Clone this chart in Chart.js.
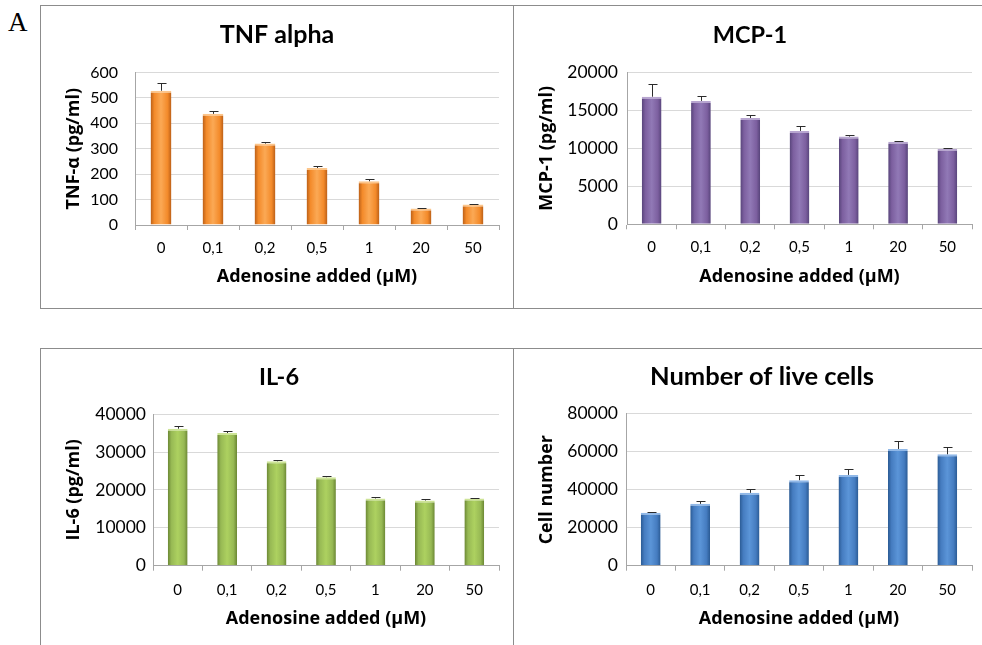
<!DOCTYPE html>
<html>
<head>
<meta charset="utf-8">
<script src="https://cdn.jsdelivr.net/npm/chart.js@4.4.1/dist/chart.umd.min.js"></script>
<style>
  html, body { margin: 0; padding: 0; background: #fff; width: 982px; height: 645px; overflow: hidden; }
  .frame { position: absolute; border: 1px solid #8c8c8c; box-sizing: border-box; }
  canvas { position: absolute; }
  #letter { position: absolute; left: 8px; top: 9px; font-family: "Liberation Serif", "DejaVu Serif", serif; font-size: 27px; line-height: 27px; color: #000; }
</style>
</head>
<body>
<div id="letter">A</div>
<div class="frame" style="left:40px;top:5px;width:474px;height:304px"></div>
<div class="frame" style="left:513px;top:5px;width:480px;height:304px"></div>
<div class="frame" style="left:40px;top:348px;width:474px;height:310px"></div>
<div class="frame" style="left:513px;top:348px;width:480px;height:310px"></div>

<canvas id="tnf" width="468" height="301" style="left:41px;top:6px"></canvas>
<canvas id="mcp" width="468" height="301" style="left:514px;top:6px"></canvas>
<canvas id="il6" width="468" height="296" style="left:41px;top:349px"></canvas>
<canvas id="cells" width="468" height="296" style="left:514px;top:349px"></canvas>

<script>
// Adenosine doses (µM), written with decimal commas
const doses = ['0', '0,1', '0,2', '0,5', '1', '20', '50'];

// TNF-α (pg/ml): mean and upper error
const tnfMean = [528, 437, 320, 224, 172, 65, 81];
const tnfErr  = [29, 13, 6, 7, 9, 1, 1];
const tnfTicks = [0, 100, 200, 300, 400, 500, 600];

// MCP-1 (pg/ml)
const mcpMean = [16800, 16250, 14000, 12300, 11550, 10870, 9960];
const mcpErr  = [1650, 650, 400, 650, 250, 130, 50];
const mcpTicks = [0, 5000, 10000, 15000, 20000];

// IL-6 (pg/ml)
const il6Mean = [36150, 35000, 27550, 23350, 17750, 17200, 17750];
const il6Err  = [600, 450, 280, 280, 400, 520, 180];
const il6Ticks = [0, 10000, 20000, 30000, 40000];

// Live cell count
const cellMean = [27850, 32550, 38350, 45000, 47800, 61450, 58650];
const cellErr  = [500, 1750, 2100, 2800, 3150, 4000, 3700];
const cellTicks = [0, 20000, 40000, 60000, 80000];

const BAR_FRACTION = 0.4;
const FONT = 'Lato, "Open Sans", sans-serif';
const AXIS_FONT = '"Open Sans", Lato, sans-serif';

// Bevelled bar fill: dark edges, bright centre
function barFill(pal) {
  return ctx => {
    const chart = ctx.chart;
    const xs = chart.scales && chart.scales.x;
    if (!xs || ctx.type !== 'data' || !xs.width) return pal.mid;
    const cx = xs.getPixelForValue(ctx.dataIndex);
    const half = xs.width / doses.length * BAR_FRACTION / 2;
    const g = chart.ctx.createLinearGradient(cx - half, 0, cx + half, 0);
    g.addColorStop(0, pal.dark);
    g.addColorStop(0.18, pal.mid);
    g.addColorStop(0.5, pal.light);
    g.addColorStop(0.82, pal.mid);
    g.addColorStop(1, pal.dark);
    return g;
  };
}

// Upper error whiskers, placed with the y scale
const errorBars = {
  id: 'errorBars',
  afterDatasetsDraw(chart) {
    const ctx = chart.ctx;
    const y = chart.scales.y;
    const ds = chart.data.datasets[0];
    const meta = chart.getDatasetMeta(0);
    ctx.save();
    ctx.strokeStyle = '#2b2b2b';
    ctx.lineWidth = 1;
    meta.data.forEach((bar, i) => {
      const x = Math.round(bar.x) + 0.5;
      const top = Math.round(y.getPixelForValue(ds.data[i] + ds.errors[i])) + 0.5;
      ctx.beginPath();
      ctx.moveTo(x, bar.y);
      ctx.lineTo(x, top);
      ctx.moveTo(x - 4, top);
      ctx.lineTo(x + 5, top);
      ctx.stroke();
    });
    ctx.restore();
  }
};

function makeChart(id, o) {
  return new Chart(document.getElementById(id), {
    type: 'bar',
    data: {
      labels: doses,
      datasets: [{
        data: o.mean,
        errors: o.err,
        backgroundColor: barFill(o.pal),
        borderColor: o.pal.cap,
        borderWidth: { top: 2, left: 0, right: 0, bottom: 0 },
        borderSkipped: 'bottom',
        barPercentage: BAR_FRACTION,
        categoryPercentage: 1
      }]
    },
    options: {
      responsive: false,
      animation: false,
      devicePixelRatio: 1,
      layout: { padding: { left: o.padLeft, right: 10, top: 0, bottom: 0 } },
      plugins: {
        legend: { display: false },
        tooltip: { enabled: false },
        title: {
          display: true,
          text: o.title,
          color: '#000',
          font: { family: FONT, size: o.titleSize, weight: 'bold', lineHeight: 1.2 },
          padding: { top: o.titleTop, bottom: o.titleBottom }
        }
      },
      scales: {
        x: {
          afterFit: s => { s.height = o.xHeight; },
          grid: { display: true, drawOnChartArea: false, drawTicks: true, tickLength: 5, color: '#a6a6a6', offset: true },
          border: { display: true, color: '#a6a6a6' },
          ticks: { color: '#000', padding: o.xTickPad, maxRotation: 0, autoSkip: false,
                   font: { family: FONT, size: 15, lineHeight: 1.2 } },
          title: { display: true, text: 'Adenosine added (µM)', color: '#000',
                   font: { family: AXIS_FONT, size: 18, weight: 'bold', lineHeight: 1.2 },
                   padding: { top: 0, bottom: o.xTitlePad } }
        },
        y: {
          min: 0,
          max: o.ticks[o.ticks.length - 1],
          afterBuildTicks: s => { s.ticks = o.ticks.map(v => ({ value: v })); },
          afterFit: s => { s.width = o.yWidth; },
          grid: { color: '#d9d9d9', drawTicks: false, tickLength: 0 },
          border: { display: true, color: '#a6a6a6' },
          ticks: { color: '#000', padding: o.yTickPad, callback: v => String(v),
                   font: { family: FONT, size: o.yTickSize, lineHeight: 1.2 } },
          title: { display: true, text: o.yTitle, color: '#000',
                   font: { family: AXIS_FONT, size: 18, weight: 'bold', lineHeight: 1.2 },
                   padding: { top: o.yTitlePad, bottom: 0 } }
        }
      }
    },
    plugins: [errorBars]
  });
}

const orange = { dark: '#b95e17', mid: '#f38a2a', light: '#fba955', cap: '#fcc58a' };
const purple = { dark: '#57447a', mid: '#7c5f9f', light: '#9179b6', cap: '#b7a5d0' };
const green  = { dark: '#6a8633', mid: '#97b954', light: '#add160', cap: '#cde496' };
const blue   = { dark: '#2a5a93', mid: '#457cc0', light: '#5b95d8', cap: '#90b8e8' };

makeChart('tnf', {
  title: 'TNF alpha', yTitle: 'TNF-α (pg/ml)', mean: tnfMean, err: tnfErr, ticks: tnfTicks, pal: orange,
  titleSize: 25, yTickSize: 16,
  padLeft: 14, yWidth: 80, yTitlePad: 8.2, yTickPad: 17,
  titleTop: 14.2, titleBottom: 22.2, xHeight: 82, xTickPad: 9, xTitlePad: 19.2
});
makeChart('mcp', {
  title: 'MCP-1', yTitle: 'MCP-1 (pg/ml)', mean: mcpMean, err: mcpErr, ticks: mcpTicks, pal: purple,
  titleSize: 23.5, yTickSize: 17.5,
  padLeft: 14, yWidth: 99, yTitlePad: 8.2, yTickPad: 9,
  titleTop: 15.1, titleBottom: 23.1, xHeight: 82.7, xTickPad: 9, xTitlePad: 19.2
});
makeChart('il6', {
  title: 'IL-6', yTitle: 'IL-6 (pg/ml)', mean: il6Mean, err: il6Err, ticks: il6Ticks, pal: green,
  titleSize: 23.5, yTickSize: 17.5,
  padLeft: 18, yWidth: 94, yTitlePad: 4.2, yTickPad: 7,
  titleTop: 14.1, titleBottom: 22.8, xHeight: 79.3, xTickPad: 10.3, xTitlePad: 15.2
});
makeChart('cells', {
  title: 'Number of live cells', yTitle: 'Cell number', mean: cellMean, err: cellErr, ticks: cellTicks, pal: blue,
  titleSize: 25.5, yTickSize: 17.5,
  padLeft: 38, yWidth: 74, yTitlePad: -15.8, yTickPad: 8,
  titleTop: 12.9, titleBottom: 21.2, xHeight: 79.3, xTickPad: 10.3, xTitlePad: 15.2
});
</script>
</body>
</html>
